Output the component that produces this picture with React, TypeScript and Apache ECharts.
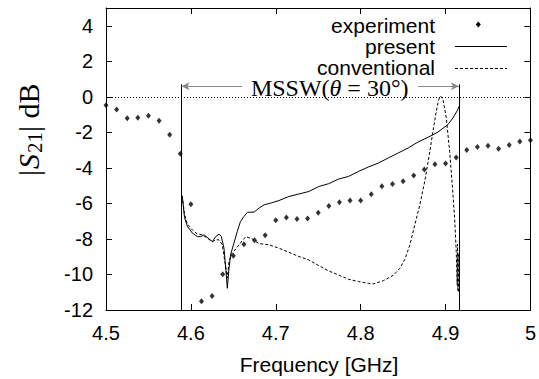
import React, { useEffect, useRef } from "react";
import * as echarts from "echarts";

// experiment points (GHz, dB)
const expFreq = [
  4.5, 4.5125, 4.525, 4.5375, 4.55, 4.5625, 4.575, 4.5875,
  4.6, 4.6125, 4.625, 4.6375, 4.65, 4.6625, 4.675, 4.6875,
  4.7, 4.7125, 4.725, 4.7375, 4.75, 4.7625, 4.775, 4.7875, 4.8, 4.8125,
  4.825, 4.8375, 4.85, 4.8625, 4.875, 4.8875, 4.9, 4.9125, 4.925, 4.9375,
  4.95, 4.9625, 4.975, 4.9875, 5.0,
];
const expDb = [
  -0.47, -0.72, -1.2, -1.18, -1.06, -1.34, -2.13, -3.2,
  -6.05, -11.51, -11.21, -9.99, -8.94, -8.3, -8.07, -7.79,
  -6.95, -6.8, -6.88, -6.85, -6.53, -6.15, -5.93, -5.84, -5.84, -5.48,
  -5.04, -4.91, -4.75, -4.43, -4.09, -3.79, -3.75, -3.41, -3.0, -2.83,
  -2.76, -2.93, -2.71, -2.52, -2.44,
];

// present theory (solid)
const presFreq = [
  4.5898, 4.5925, 4.596, 4.6019, 4.6077, 4.6116, 4.6156, 4.6214, 4.6253, 4.6292,
  4.6331, 4.6358, 4.639, 4.641, 4.6429, 4.6446, 4.6467, 4.6507, 4.6546, 4.6584,
  4.6624, 4.6666, 4.6745, 4.6803, 4.6862, 4.694, 4.7037, 4.7155, 4.7272, 4.7389,
  4.7506, 4.7623, 4.774, 4.7857, 4.7974, 4.8091, 4.8208, 4.8326, 4.8443, 4.856,
  4.8677, 4.8794, 4.8911, 4.9028, 4.9087, 4.9145, 4.9157,
];
const presDb = [
  -5.57, -6.8, -7.3, -7.68, -7.87, -7.87, -7.77, -8.0, -8.15, -7.87,
  -7.73, -7.85, -8.52, -9.6, -10.78, -9.8, -8.9, -8.24, -7.58, -7.02,
  -6.74, -6.5, -6.49, -6.26, -6.08, -5.98, -5.84, -5.61, -5.47, -5.33,
  -5.05, -4.89, -4.63, -4.48, -4.2, -3.95, -3.73, -3.44, -3.16, -2.88,
  -2.54, -2.28, -1.98, -1.56, -1.19, -0.72, -0.55,
];

// conventional theory (dashed)
const convFreq = [
  4.5898, 4.5925, 4.596, 4.6019, 4.6077, 4.6136, 4.6194, 4.6253, 4.6292, 4.6331,
  4.637, 4.6409, 4.6429, 4.6449, 4.6487, 4.6546, 4.6604, 4.6648, 4.6725, 4.6803,
  4.692, 4.7037, 4.7155, 4.7272, 4.7389, 4.7506, 4.7623, 4.774, 4.7857, 4.7974,
  4.8091, 4.815, 4.8267, 4.8384, 4.8462, 4.8521, 4.858, 4.8638, 4.8697, 4.8755,
  4.8815, 4.8852, 4.8891, 4.8919, 4.8943, 4.897, 4.9009, 4.9048, 4.9079, 4.9107,
  4.9126, 4.9137, 4.9141, 4.9145, 4.9149, 4.9152,
];
const convDb = [
  -5.57, -6.6, -7.2, -7.5, -7.72, -7.77, -7.96, -8.15, -8.05, -8.05,
  -8.33, -9.56, -10.2, -9.28, -8.8, -8.46, -8.1, -7.87, -8.01, -8.26,
  -8.33, -8.52, -8.75, -8.99, -9.18, -9.5, -9.8, -10.03, -10.27, -10.4,
  -10.5, -10.53, -10.35, -10.05, -9.65, -9.15, -8.33, -7.2, -6.08, -4.76,
  -3.07, -1.94, -0.81, -0.15, 0.04, -0.15, -1.19, -3.07, -4.95, -6.83,
  -8.71, -10.59, -8.3, -10.9, -8.8, -11.0,
];

// annotation band (MSSW)
const bandStart = 4.589;
const bandEnd = 4.9157;
const bandTop = 0.7;
const arrowY = 0.6;
const arrowLeftFrom = 4.6604;
const arrowRightFrom = 4.8677;
const labelX = 4.7635;
const labelY = 0.5;

const xTicks = { min: 4.5, max: 5, interval: 0.1 };
const yTicks = { min: -12, max: 5, interval: 2 };

const SANS = "Liberation Sans, Arial, Helvetica, sans-serif";
const SERIF = "Liberation Serif, Times New Roman, serif";

export default function App() {
  const ref = useRef<HTMLDivElement>(null);
  useEffect(() => {
    if (!ref.current) return;
    const chart = echarts.init(ref.current, undefined, { renderer: "svg" });
    const zip = (a: number[], b: number[]) => a.map((v, i) => [v, b[i]]);
    const axisCommon = {
      axisLine: { show: true, onZero: false, lineStyle: { color: "#000", width: 1 } },
      axisTick: { show: true, inside: true, length: 6, lineStyle: { color: "#000", width: 1 } },
      splitLine: { show: false },
    };
    const serifText = (x: number, y: number, text: string, size: number, italic = false) => ({
      type: "text",
      x,
      y,
      style: {
        text,
        fontFamily: SERIF,
        fontSize: size,
        fontStyle: italic ? "italic" : "normal",
        fill: "#000",
        align: "left",
        verticalAlign: "middle",
      },
    });
    chart.setOption({
      animation: false,
      backgroundColor: "#fff",
      grid: { left: 106, top: 8, right: 6, bottom: 69, containLabel: false },
      xAxis: [
        {
          type: "value", position: "bottom", ...xTicks, ...axisCommon,
          axisLabel: { fontSize: 20, color: "#000", fontFamily: SANS, margin: 13 },
        },
        {
          type: "value", position: "top", ...xTicks, ...axisCommon,
          axisLabel: { show: false },
        },
      ],
      yAxis: [
        {
          type: "value", position: "left", ...yTicks, ...axisCommon,
          axisLabel: { fontSize: 20, color: "#000", fontFamily: SANS, margin: 13, showMaxLabel: false },
        },
        {
          type: "value", position: "right", ...yTicks, ...axisCommon,
          axisLabel: { show: false },
        },
      ],
      series: [
        {
          name: "experiment",
          type: "scatter",
          symbol: "diamond",
          symbolSize: [5, 6],
          itemStyle: { color: "#000" },
          data: zip(expFreq, expDb),
          silent: true,
          z: 5,
        },
        {
          name: "present",
          type: "line",
          showSymbol: false,
          symbol: "none",
          lineStyle: { color: "#000", width: 1 },
          data: zip(presFreq, presDb),
          silent: true,
          markLine: {
            silent: true,
            symbol: ["none", "none"],
            label: { show: false },
            lineStyle: { color: "#000", width: 1, type: "solid" },
            data: [
              [
                { coord: [xTicks.min, 0], lineStyle: { type: [1, 2], color: "#000", width: 1 } },
                { coord: [xTicks.max, 0] },
              ],
              [
                { coord: [bandStart, bandTop], lineStyle: { color: "#000", width: 1 } },
                { coord: [bandStart, yTicks.min] },
              ],
              [
                { coord: [bandEnd, bandTop], lineStyle: { color: "#000", width: 1 } },
                { coord: [bandEnd, yTicks.min] },
              ],
              [
                { coord: [arrowLeftFrom, arrowY], lineStyle: { color: "#888", width: 1 } },
                { coord: [bandStart, arrowY], symbol: "arrow", symbolSize: [6, 8] },
              ],
              [
                { coord: [arrowRightFrom, arrowY], lineStyle: { color: "#888", width: 1 } },
                { coord: [bandEnd, arrowY], symbol: "arrow", symbolSize: [6, 8] },
              ],
            ],
          },
        },
        {
          name: "conventional",
          type: "line",
          showSymbol: false,
          symbol: "none",
          lineStyle: { color: "#000", width: 1, type: [3, 2] },
          data: zip(convFreq, convDb),
          silent: true,
          markPoint: {
            silent: true,
            symbol: "circle",
            symbolSize: 1,
            itemStyle: { color: "rgba(0,0,0,0)" },
            label: {
              show: true,
              position: "inside",
              formatter: "{a|MSSW(}{i|θ}{a| = 30°)}",
              rich: {
                a: { fontFamily: SERIF, fontSize: 24, lineHeight: 22, color: "#000" },
                i: { fontFamily: SERIF, fontSize: 24, lineHeight: 22, fontStyle: "italic", color: "#000" },
              },
            },
            data: [{ coord: [labelX, labelY] }],
          },
        },
      ],
      graphic: [
        // legend
        { type: "text", x: 435, y: 25, style: { text: "experiment", fontSize: 21, fontFamily: SANS, fill: "#000", align: "right", verticalAlign: "middle" } },
        { type: "text", x: 435, y: 46.5, style: { text: "present", fontSize: 21, fontFamily: SANS, fill: "#000", align: "right", verticalAlign: "middle" } },
        { type: "text", x: 435, y: 67.5, style: { text: "conventional", fontSize: 21, lineHeight: 19, fontFamily: SANS, fill: "#000", align: "right", verticalAlign: "middle" } },
        { type: "polygon", shape: { points: [[478.3, 21.5], [480.8, 24.5], [478.3, 27.5], [475.8, 24.5]] }, style: { fill: "#000" } },
        { type: "line", shape: { x1: 455, y1: 46.5, x2: 507, y2: 46.5 }, style: { stroke: "#000", lineWidth: 1 } },
        { type: "line", shape: { x1: 455, y1: 68.5, x2: 507, y2: 68.5 }, style: { stroke: "#000", lineWidth: 1, lineDash: [3, 2] } },
        // axis names
        {
          type: "text", x: 319, y: 364,
          style: { text: "Frequency [GHz]", fontSize: 21, fontFamily: SANS, fill: "#000", align: "center", verticalAlign: "middle" },
        },
        {
          type: "group",
          x: 28,
          y: 130,
          rotation: Math.PI / 2,
          children: [
            serifText(-46, 0, "|", 30),
            serifText(-39, 0, "S", 30, true),
            serifText(-23, 7, "21", 21),
            serifText(-2, 0, "| dB", 30),
          ],
        },
      ],
    });
    return () => chart.dispose();
  }, []);
  return (
    <div
      ref={ref}
      style={{ position: "fixed", left: 0, top: 0, width: 539, height: 379, background: "#fff" }}
    />
  );
}
